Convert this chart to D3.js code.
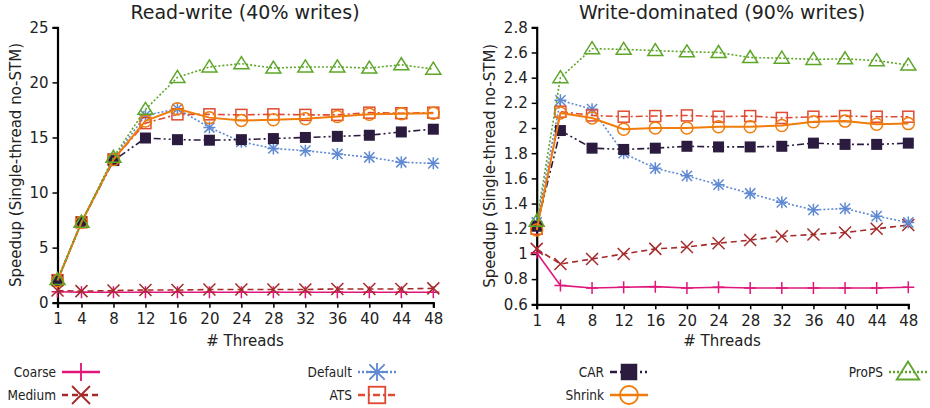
<!DOCTYPE html>
<html><head><meta charset="utf-8">
<script src="https://cdn.jsdelivr.net/npm/d3@7/dist/d3.min.js"></script>
<style>body{margin:0;background:#fff}svg{display:block}</style>
</head><body>
<svg id="c" width="930" height="408"></svg>
<script>
const threads = [1,4,8,12,16,20,24,28,32,36,40,44,48];
const seriesNames = ["Coarse","Medium","Default","ATS","CAR","Shrink","ProPS"];
// Read-write (40% writes)
const rwCoarse  = [1.0,0.95,0.95,0.95,0.95,0.95,0.95,0.95,0.95,0.95,0.95,0.95,0.95];
const rwMedium  = [1.1,1.05,1.1,1.15,1.15,1.2,1.2,1.2,1.2,1.25,1.25,1.25,1.3];
const rwDefault = [2.05,7.3,13.1,17.0,17.6,15.9,14.6,14.0,13.8,13.5,13.2,12.75,12.65];
const rwATS     = [2.05,7.3,13.0,16.3,17.1,17.1,17.05,17.1,17.05,17.05,17.25,17.2,17.25];
const rwCAR     = [2.0,7.3,12.9,14.95,14.8,14.75,14.8,14.9,15.0,15.1,15.2,15.5,15.75];
const rwShrink  = [2.0,7.3,13.0,16.5,17.6,16.8,16.55,16.6,16.7,16.9,17.1,17.15,17.2];
const rwProPS   = [2.1,7.3,13.2,17.55,20.45,21.4,21.7,21.3,21.4,21.4,21.3,21.6,21.2];
// Write-dominated (90% writes)
const wdCoarse  = [1.01,0.75,0.73,0.735,0.74,0.73,0.735,0.73,0.73,0.73,0.73,0.73,0.735];
const wdMedium  = [1.04,0.92,0.96,1.0,1.04,1.055,1.085,1.11,1.14,1.155,1.17,1.2,1.23];
const wdDefault = [1.25,2.22,2.15,1.8,1.68,1.62,1.55,1.48,1.41,1.35,1.36,1.3,1.25];
const wdATS     = [1.2,2.13,2.1,2.09,2.095,2.1,2.09,2.095,2.08,2.09,2.095,2.09,2.09];
const wdCAR     = [1.22,1.98,1.84,1.83,1.84,1.855,1.85,1.85,1.855,1.88,1.87,1.87,1.88];
const wdShrink  = [1.19,2.12,2.08,1.99,2.0,2.0,2.01,2.01,2.02,2.05,2.055,2.03,2.035];
const wdProPS   = [1.26,2.40,2.63,2.625,2.615,2.605,2.6,2.56,2.555,2.545,2.55,2.535,2.5];
const rwTicks = [0,5,10,15,20,25];
const wdTicks = [0.6,0.8,1,1.2,1.4,1.6,1.8,2,2.2,2.4,2.6,2.8];
const titles = ["Read-write (40% writes)","Write-dominated (90% writes)"];
const yLabel = "Speedup (Single-thread no-STM)";
const xLabel = "# Threads";

const styles = {
  Coarse:  {color:"#e0177a", dash:null, width:1.6, marker:"plus"},
  Medium:  {color:"#a52a2a", dash:"6,4", width:1.6, marker:"cross"},
  Default: {color:"#5f8ad3", dash:"2,2", width:1.6, marker:"star"},
  ATS:     {color:"#e04a32", dash:"7,3,2,3", width:1.6, marker:"square"},
  CAR:     {color:"#2b1b3f", dash:"7,3,2,3,2,3", width:1.6, marker:"fsquare"},
  Shrink:  {color:"#f07c0c", dash:null, width:2, marker:"circle"},
  ProPS:   {color:"#5ea62a", dash:"2,2", width:1.6, marker:"triangle"}
};

const svg = d3.select("#c");
const FONT = "DejaVu Sans, sans-serif";

function drawMarker(g, type, x, y, color, k){
  k = k || 1;
  const s = 6*k, sw = 1.5*Math.sqrt(k);
  if(type==="plus"){
    g.append("path").attr("d",`M${x-s},${y}H${x+s}M${x},${y-s}V${y+s}`).attr("stroke",color).attr("stroke-width",sw).attr("fill","none");
  } else if(type==="cross"){
    g.append("path").attr("d",`M${x-s},${y-s}L${x+s},${y+s}M${x-s},${y+s}L${x+s},${y-s}`).attr("stroke",color).attr("stroke-width",sw).attr("fill","none");
  } else if(type==="star"){
    const a=s*0.85;
    g.append("path").attr("d",`M${x-s},${y}H${x+s}M${x},${y-s}V${y+s}M${x-a},${y-a}L${x+a},${y+a}M${x-a},${y+a}L${x+a},${y-a}`).attr("stroke",color).attr("stroke-width",sw).attr("fill","none");
  } else if(type==="square"){
    const h=5.5*k;
    g.append("rect").attr("x",x-h).attr("y",y-h).attr("width",2*h).attr("height",2*h).attr("stroke",color).attr("stroke-width",sw).attr("fill","none");
  } else if(type==="fsquare"){
    const h=5.5*k;
    g.append("rect").attr("x",x-h).attr("y",y-h).attr("width",2*h).attr("height",2*h).attr("fill",color);
  } else if(type==="circle"){
    g.append("circle").attr("cx",x).attr("cy",y).attr("r",6*k).attr("stroke",color).attr("stroke-width",sw).attr("fill","none");
  } else if(type==="triangle"){
    g.append("path").attr("d",`M${x},${y-7*k}L${x+7.5*k},${y+5*k}L${x-7.5*k},${y+5*k}Z`).attr("stroke",color).attr("stroke-width",sw).attr("fill","none");
  }
}

function panel(cfg){
  const g = svg.append("g");
  const x = d3.scaleLinear().domain([1,48]).range(cfg.xr);
  const y = d3.scaleLinear().domain(cfg.yd).range(cfg.yr);
  const yAxis = d3.axisLeft(y).tickValues(cfg.ticks).tickSize(5).tickPadding(4).tickFormat(d3.format("~g"));
  const xAxis = d3.axisBottom(x).tickValues(threads).tickSize(5).tickPadding(6).tickFormat(d3.format("d"));
  const gy = g.append("g").attr("transform",`translate(${cfg.xr[0]},0)`).call(yAxis);
  const gx = g.append("g").attr("transform",`translate(0,${cfg.yr[0]})`).call(xAxis);
  [gx,gy].forEach(a=>{
    a.select(".domain").attr("stroke","#000").attr("stroke-width",2.2);
    a.selectAll(".tick line").attr("stroke","#000").attr("stroke-width",1.5);
    a.selectAll("text").attr("font-family",FONT).attr("font-size",15).attr("fill","#222");
  });
  const line = d3.line().x((d,i)=>x(threads[i])).y(d=>y(d));
  seriesNames.forEach((name,k)=>{
    const st = styles[name];
    const data = cfg.data[k];
    g.append("path").datum(data).attr("d",line).attr("fill","none")
      .attr("stroke",st.color).attr("stroke-width",st.width)
      .attr("stroke-dasharray",st.dash);
    data.forEach((v,i)=>drawMarker(g,st.marker,x(threads[i]),y(v),st.color));
  });
  g.append("text").attr("x",cfg.titleX).attr("y",19).attr("text-anchor","middle")
    .attr("font-family",FONT).attr("font-size",19).attr("fill","#222").text(cfg.title);
  g.append("text").attr("x",cfg.titleX).attr("y",346).attr("text-anchor","middle")
    .attr("font-family",FONT).attr("font-size",15).attr("fill","#222").text(xLabel);
  g.append("text").attr("transform",`translate(${cfg.ylx},${(cfg.yr[0]+cfg.yr[1])/2}) rotate(-90)`)
    .attr("text-anchor","middle").attr("dominant-baseline","central")
    .attr("font-family",FONT).attr("font-size",15).attr("fill","#222").text(yLabel);
}

panel({xr:[57.5,433.3], yr:[302.7,27.3], yd:[0,25], ticks:rwTicks, title:titles[0], titleX:245, ylx:16,
  data:[rwCoarse,rwMedium,rwDefault,rwATS,rwCAR,rwShrink,rwProPS]});
panel({xr:[536.7,908.3], yr:[304.3,27.3], yd:[0.6,2.8], ticks:wdTicks, title:titles[1], titleX:722, ylx:490,
  data:[wdCoarse,wdMedium,wdDefault,wdATS,wdCAR,wdShrink,wdProPS]});

// legend
const legendPos = {
  Coarse:[56,372], Medium:[56,395], Default:[352,372], ATS:[352,395],
  CAR:[604,372], Shrink:[604,395], ProPS:[883,372]
};
const lg = svg.append("g");
seriesNames.forEach(name=>{
  const st = styles[name];
  const [tx,ty] = legendPos[name];
  lg.append("text").attr("x",tx).attr("y",ty).attr("text-anchor","end").attr("dominant-baseline","central")
    .attr("font-family","DejaVu Sans Condensed, DejaVu Sans, sans-serif").attr("font-size",13.5).attr("fill","#222").text(name);
  lg.append("line").attr("x1",tx+6).attr("x2",tx+44).attr("y1",ty).attr("y2",ty)
    .attr("stroke",st.color).attr("stroke-width",2.5).attr("stroke-dasharray",st.dash);
  drawMarker(lg,st.marker,tx+25,ty,st.color,1.5);
});
</script>
</body></html>
